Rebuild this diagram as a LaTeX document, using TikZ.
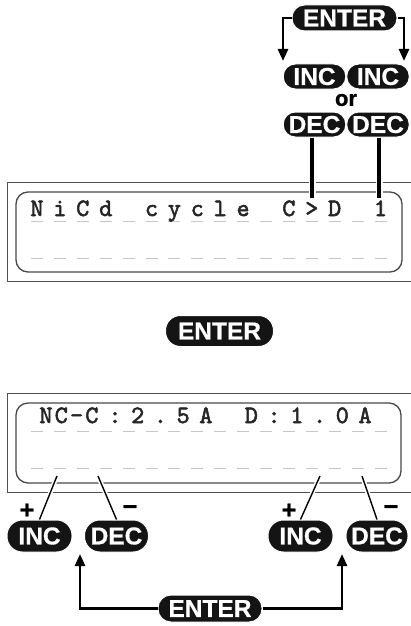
\documentclass[tikz,border=0pt]{standalone}
\usepackage{fontspec}
\setmainfont{Liberation Sans}
\newfontfamily\lcdfont{lmmono10-regular.otf}[FakeBold=2.2]
\usetikzlibrary{positioning, calc, arrows.meta}
\definecolor{keyblack}{HTML}{141414}
\definecolor{framegray}{HTML}{505050}
\definecolor{cellgray}{HTML}{c6c6c6}

\begin{document}
\begin{tikzpicture}[
    x=1pt, y=-1pt,
    key/.style={rectangle, draw=white, line width=1pt, fill=keyblack, text=white, font=\fontsize{24.5}{24.5}\selectfont\bfseries\addfontfeature{FakeBold=0.6}, inner xsep=2pt, inner ysep=0pt, minimum width=62.5pt, minimum height=#1, rounded corners=0.48*#1},
    key/.default=25pt,
    lcdchar/.style={font=\fontsize{25}{25}\lcdfont, text=black!85, inner sep=0pt, anchor=base},
    frame/.style={draw=framegray, line width=1pt},
    panel/.style={draw=framegray!90!black, line width=1.3pt, rounded corners=12pt},
    cellmark/.style={draw=cellgray, line width=1pt},
    arrow/.style={-{Triangle[width=10pt,length=12pt]}, line width=2.6pt},
    tap/.style={line width=3.4pt, preaction={draw=white, line width=7pt}},
    lead/.style={line width=1.4pt, preaction={draw=white, line width=4.5pt}},
    sign/.style={font=\fontsize{25}{25}\selectfont\bfseries\addfontfeature{FakeBold=1}, inner sep=0pt}
]
\useasboundingbox (0,0) rectangle (411,626);

% Displays
\draw[frame] (7,182) rectangle (420,281);
\draw[panel] (16,192) rectangle (402,272);
\draw[frame] (7,393) rectangle (420,492);
\draw[panel] (16,403) rectangle (401,483);
\foreach \k in {0,...,15} {
  \draw[cellmark] ({31+22.9*\k},221) -- ++(12,0);
  \draw[cellmark] ({31+22.9*\k},258) -- ++(12,0);
  \draw[cellmark] ({31+22.9*\k},431) -- ++(12,0);
  \draw[cellmark] ({31+22.9*\k},468) -- ++(12,0);
}
\foreach \i/\c in {0/N,1/i,2/C,3/d,5/c,6/y,7/c,8/l,9/e,11/C,12/>,13/D,15/1}
  \node[lcdchar] (top\i) at ({37+22.9*\i},216) {\c};
\foreach \i/\c in {0/N,1/C,2/-,3/C}
  \node[lcdchar] (nc\i) at ({46+15.3*\i},423) {\c};
\foreach \i/\c in {0/:,1/2,2/.,3/5,4/A,6/D,7/:,8/1,9/.,10/0,11/A}
  \node[lcdchar] (amp\i) at ({115+22.73*\i},423) {\c};

% Leads to the lower keys
\coordinate (t1) at (57,476);
\coordinate (t2) at (98,476);
\coordinate (t3) at (320,476);
\coordinate (t4) at (362,476);
\coordinate (pinL) at (312,198);
\coordinate (pinR) at (379,198);

% Keys, top
\node[key=26pt, minimum width=105pt] (enterT) at (344.5,18) {ENTER};
\node[key] (incTL) at (314.5,76.5) {INC};
\node[key, right=0pt of incTL] (incTR) {INC};
\node[font=\fontsize{22}{22}\selectfont\bfseries\addfontfeature{FakeBold=1}, inner sep=0pt] (or) at (346,100) {or};
\node[key] (decTL) at (314.5,124.5) {DEC};
\node[key, right=0pt of decTL] (decTR) {DEC};
\coordinate (dropL) at (283,61);
\coordinate (dropR) at (404,61);

% Keys, middle and bottom
\node[key=31pt, minimum width=108pt] (enterM) at (219.5,331) {ENTER};
\node[key=32pt, minimum width=65pt] (incBL) at (39.5,536) {INC};
\node[key=32pt, minimum width=64pt] (decBL) at (116.5,536) {DEC};
\node[key=32pt, minimum width=65pt] (incBR) at (300.5,536) {INC};
\node[key=32pt, minimum width=62pt] (decBR) at (377,536) {DEC};
\node[key=27pt, minimum width=104pt] (enterB) at (210,608.5) {ENTER};
\coordinate (riseL) at (80,554);
\coordinate (riseR) at (342,554);

\node[sign] (plusL) at (27,511) {+};
\node[sign] (minusL) at (130,510) {−};
\node[sign] (plusR) at (289,511) {+};
\node[sign] (minusR) at (391,510) {−};

% Connectors
\draw[tap] (decTL.south -| pinL) -- (pinL);
\draw[tap] (decTR.south -| pinR) -- (pinR);
\draw[lead] (t1) -- (incBL.north);
\draw[lead] (t2) -- (decBL.north);
\draw[lead] (t3) -- (incBR.north);
\draw[lead] (t4) -- (decBR.north);
\draw[arrow] (enterT.west) -| (dropL);
\draw[arrow] (enterT.east) -| (dropR);
\draw[arrow] (enterB.west) -| (riseL);
\draw[arrow] (enterB.east) -| (riseR);

\end{tikzpicture}
\end{document}
